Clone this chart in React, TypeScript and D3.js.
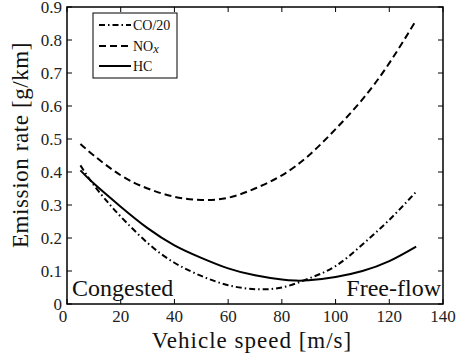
import React from "react";
import * as d3 from "d3";

const speedCO = [5, 10, 15, 20, 30, 40, 50, 60, 70, 80, 90, 100, 110, 120, 130];
const coOver20 = [0.42, 0.36, 0.31, 0.265, 0.185, 0.125, 0.085, 0.057, 0.045, 0.05, 0.077, 0.115, 0.18, 0.255, 0.34];
const speedNOx = [5, 10, 20, 30, 40, 50, 60, 70, 80, 90, 100, 110, 120, 130];
const nox = [0.485, 0.45, 0.39, 0.35, 0.325, 0.315, 0.322, 0.35, 0.39, 0.45, 0.53, 0.62, 0.73, 0.86];
const speedHC = [5, 10, 20, 30, 40, 50, 60, 70, 80, 85, 90, 100, 110, 120, 130];
const hc = [0.405, 0.365, 0.295, 0.23, 0.178, 0.14, 0.108, 0.087, 0.074, 0.071, 0.072, 0.082, 0.1, 0.13, 0.174];
const xTicks = [0, 20, 40, 60, 80, 100, 120, 140];
const yTicks = [0, 0.1, 0.2, 0.3, 0.4, 0.5, 0.6, 0.7, 0.8, 0.9];

const FONT = "'Liberation Serif', 'Times New Roman', serif";

export default function App() {
  const left = 67, right = 443, top = 7, bottom = 304;
  const x = d3.scaleLinear().domain([0, 140]).range([left, right]);
  const y = d3.scaleLinear().domain([0, 0.9]).range([bottom, top]);
  const line = d3.line<[number, number]>().x(d => x(d[0])).y(d => y(d[1])).curve(d3.curveNatural);
  const series = [
    { xs: speedCO, ys: coOver20, dash: "6,3,1.5,3" },
    { xs: speedNOx, ys: nox, dash: "7,4" },
    { xs: speedHC, ys: hc, dash: "" },
  ];
  const tl = 5;
  const yLabel = (v: number) => (v === 0 ? "0" : d3.format(".1f")(v));
  const ts = { fontFamily: FONT };
  return (
    <svg width={458} height={360} style={{ position: "absolute", left: 0, top: 0, background: "#fff", fontFamily: FONT }}>
      {series.map((s, i) => (
        <path key={i} d={line(s.xs.map((v, j) => [v, s.ys[j]] as [number, number])) || ""}
          fill="none" stroke="#000" strokeWidth={2} strokeDasharray={s.dash || undefined} />
      ))}
      <rect x={left} y={top} width={right - left} height={bottom - top} fill="none" stroke="#000" strokeWidth={1.5} />
      {xTicks.map(t => (
        <g key={"x" + t}>
          <line x1={x(t)} x2={x(t)} y1={bottom} y2={bottom - tl} stroke="#000" strokeWidth={1} />
          <line x1={x(t)} x2={x(t)} y1={top} y2={top + tl} stroke="#000" strokeWidth={1} />
          <text style={ts} x={t === 0 ? x(t) - 4 : x(t)} y={322} fontSize={17} textAnchor="middle" fill="#222">{t}</text>
        </g>
      ))}
      {yTicks.map(t => (
        <g key={"y" + t}>
          <line x1={left} x2={left + tl} y1={y(t)} y2={y(t)} stroke="#000" strokeWidth={1} />
          <line x1={right} x2={right - tl} y1={y(t)} y2={y(t)} stroke="#000" strokeWidth={1} />
          <text style={ts} x={62} y={y(t) + 5.5} fontSize={17} textAnchor="end" fill="#222">{yLabel(t)}</text>
        </g>
      ))}
      <text style={{ ...ts, letterSpacing: "1px" }} x={252} y={348} fontSize={23} textAnchor="middle" fill="#111">Vehicle speed [m/s]</text>
      <text style={{ ...ts, letterSpacing: "0.6px" }} transform={`translate(28,145) rotate(-90)`} fontSize={23} textAnchor="middle" fill="#111">Emission rate [g/km]</text>
      <text style={ts} x={72} y={296} fontSize={24} fill="#111">Congested</text>
      <text style={ts} x={441} y={296} fontSize={24} textAnchor="end" fill="#111">Free-flow</text>
      <g>
        <rect x={93} y={13} width={84} height={65} fill="#fff" stroke="#000" strokeWidth={1} />
        {[
          { label: "CO/20", dash: "6,3,1.5,3", yy: 25 },
          { label: "NOx", dash: "7,4", yy: 46 },
          { label: "HC", dash: "", yy: 66 },
        ].map((e, i) => (
          <g key={i}>
            <line x1={99} x2={131} y1={e.yy} y2={e.yy} stroke="#000" strokeWidth={2} strokeDasharray={e.dash || undefined} />
            <text style={ts} x={133} y={e.yy + 4.5} fontSize={14} fill="#111">
              {e.label === "NOx" ? (<><tspan>NO</tspan><tspan fontStyle="italic" fontSize={12.5} dy={2}>x</tspan></>) : e.label}
            </text>
          </g>
        ))}
      </g>
    </svg>
  );
}
